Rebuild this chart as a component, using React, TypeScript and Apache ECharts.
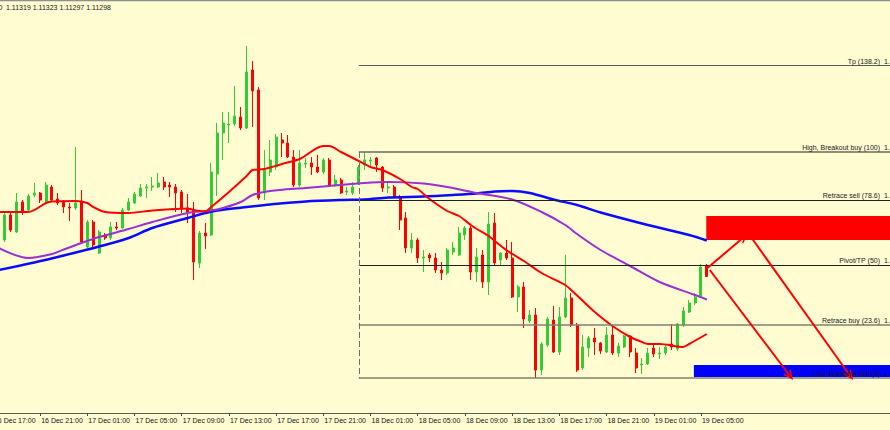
import React, { useEffect, useRef } from "react";
import * as echarts from "echarts";

const SYMBOL = "EURUSD,M30";
const HEADER = "1.11319 1.11323 1.11297 1.11298";
const START_UTC = Date.UTC(2019, 11, 16, 17, 0);
const STEP_MIN = 30;
const TOTAL_BARS = 155;
const TICK_EVERY = 8;
const FIRST_CANDLE = 1;
const MONTHS = ["Jan", "Feb", "Mar", "Apr", "May", "Jun", "Jul", "Aug", "Sep", "Oct", "Nov", "Dec"];

// [open, close, low, high] for bars k = 1..121
const CANDLES: number[][] = [
  [1.11457, 1.11387, 1.11381, 1.11465], [1.11371, 1.11421, 1.11367, 1.11429], [1.11421, 1.11391, 1.11387, 1.11425],
  [1.11387, 1.11447, 1.11385, 1.11465], [1.11447, 1.11427, 1.11421, 1.11451], [1.11431, 1.11459, 1.11429, 1.11463],
  [1.11461, 1.11465, 1.11457, 1.11485], [1.11465, 1.11451, 1.11445, 1.11467], [1.11447, 1.11481, 1.11445, 1.11487],
  [1.11477, 1.11451, 1.11449, 1.11481], [1.11453, 1.11445, 1.11441, 1.11465], [1.11447, 1.11437, 1.11425, 1.11451],
  [1.11437, 1.11435, 1.11409, 1.11445], [1.11435, 1.11445, 1.11431, 1.11557], [1.11447, 1.11367, 1.11365, 1.11471],
  [1.11357, 1.11407, 1.11355, 1.11411], [1.11407, 1.11361, 1.11357, 1.11411], [1.11345, 1.11387, 1.11343, 1.11391],
  [1.11381, 1.11375, 1.11371, 1.11385], [1.11375, 1.11397, 1.11371, 1.11407], [1.11397, 1.11395, 1.11391, 1.11407],
  [1.11395, 1.11431, 1.11393, 1.11435], [1.11431, 1.11447, 1.11429, 1.11455], [1.11445, 1.11463, 1.11443, 1.11467],
  [1.11459, 1.11475, 1.11457, 1.11483], [1.11475, 1.11477, 1.11455, 1.11483], [1.11477, 1.11479, 1.11469, 1.11497],
  [1.11477, 1.11485, 1.11475, 1.11505], [1.11487, 1.11477, 1.11471, 1.11497], [1.11481, 1.11477, 1.11457, 1.11487],
  [1.11477, 1.11465, 1.11427, 1.11483], [1.11467, 1.11435, 1.11425, 1.11471], [1.11435, 1.11427, 1.11405, 1.11463],
  [1.11431, 1.11327, 1.11291, 1.11447], [1.11325, 1.11385, 1.11315, 1.11389], [1.11385, 1.11379, 1.11353, 1.11405],
  [1.11381, 1.11507, 1.11379, 1.11525], [1.11503, 1.11585, 1.11459, 1.11605], [1.11585, 1.11605, 1.11531, 1.11627],
  [1.11601, 1.11603, 1.11565, 1.11627], [1.11603, 1.11619, 1.11599, 1.11679], [1.11617, 1.11595, 1.11591, 1.11637],
  [1.11595, 1.11707, 1.11593, 1.11759], [1.11711, 1.11669, 1.11597, 1.11729], [1.11671, 1.11455, 1.11451, 1.11677],
  [1.11465, 1.11511, 1.11451, 1.11551], [1.11507, 1.11531, 1.11499, 1.11571], [1.11517, 1.11577, 1.11511, 1.11583],
  [1.11571, 1.11565, 1.11537, 1.11585], [1.11565, 1.11537, 1.11535, 1.11581], [1.11537, 1.11481, 1.11477, 1.11551],
  [1.11481, 1.11525, 1.11477, 1.11551], [1.11523, 1.11525, 1.11515, 1.11535], [1.11525, 1.11517, 1.11501, 1.11537],
  [1.11517, 1.11507, 1.11505, 1.11541], [1.11507, 1.11531, 1.11503, 1.11535], [1.11531, 1.11481, 1.11477, 1.11535],
  [1.11481, 1.11491, 1.11477, 1.11501], [1.11491, 1.11465, 1.11463, 1.11495], [1.11467, 1.11469, 1.11461, 1.11477],
  [1.11465, 1.11477, 1.11461, 1.11487], [1.11485, 1.11517, 1.11481, 1.11521], [1.11521, 1.11531, 1.11511, 1.11547],
  [1.11529, 1.11531, 1.11517, 1.11537], [1.11535, 1.11521, 1.11507, 1.11537], [1.11517, 1.11475, 1.11467, 1.11519],
  [1.11475, 1.11477, 1.11465, 1.11487], [1.11477, 1.11457, 1.11455, 1.11481], [1.11457, 1.11411, 1.11391, 1.11461],
  [1.11415, 1.11355, 1.11345, 1.11427], [1.11355, 1.11371, 1.11345, 1.11385], [1.11371, 1.11335, 1.11325, 1.11375],
  [1.11335, 1.11337, 1.11307, 1.11351], [1.11341, 1.11335, 1.11327, 1.11345], [1.11335, 1.11311, 1.11305, 1.11345],
  [1.11311, 1.11305, 1.11291, 1.11327], [1.11305, 1.11351, 1.11301, 1.11355], [1.11347, 1.11355, 1.11341, 1.11367],
  [1.11341, 1.11385, 1.11339, 1.11397], [1.11381, 1.11395, 1.11371, 1.11399], [1.11395, 1.11307, 1.11291, 1.11399],
  [1.11307, 1.11337, 1.11287, 1.11355], [1.11341, 1.11287, 1.11275, 1.11351], [1.11287, 1.11403, 1.11261, 1.11427],
  [1.11405, 1.11325, 1.11321, 1.11425], [1.11331, 1.11345, 1.11321, 1.11347], [1.11345, 1.11335, 1.11331, 1.11371],
  [1.11335, 1.11257, 1.11255, 1.11367], [1.11257, 1.11277, 1.11227, 1.11281], [1.11277, 1.11213, 1.11195, 1.11287],
  [1.11209, 1.11221, 1.11205, 1.11231], [1.11221, 1.11111, 1.11095, 1.11235], [1.11111, 1.11163, 1.11101, 1.11167],
  [1.11161, 1.11213, 1.11157, 1.11217], [1.11211, 1.11147, 1.11145, 1.11239], [1.11147, 1.11217, 1.11141, 1.11237],
  [1.11217, 1.11255, 1.11215, 1.11341], [1.11255, 1.11201, 1.11197, 1.11265], [1.11201, 1.11111, 1.11107, 1.11205],
  [1.11115, 1.11157, 1.11111, 1.11181], [1.11155, 1.11175, 1.11137, 1.11179], [1.11175, 1.11167, 1.11141, 1.11195],
  [1.11165, 1.11149, 1.11143, 1.11167], [1.11147, 1.11181, 1.11145, 1.11197], [1.11181, 1.11145, 1.11141, 1.11197],
  [1.11145, 1.11159, 1.11137, 1.11165], [1.11157, 1.11179, 1.11155, 1.11181], [1.11179, 1.11147, 1.11137, 1.11181],
  [1.11145, 1.11115, 1.11105, 1.11155], [1.11121, 1.11123, 1.11103, 1.11135], [1.11123, 1.11145, 1.11121, 1.11155],
  [1.11155, 1.11143, 1.11137, 1.11161], [1.11143, 1.11145, 1.11133, 1.11157], [1.11145, 1.11157, 1.11141, 1.11161],
  [1.11163, 1.11157, 1.11151, 1.11203], [1.11153, 1.11203, 1.11149, 1.11205], [1.11201, 1.11229, 1.11197, 1.11237],
  [1.11227, 1.11245, 1.11225, 1.11251], [1.11245, 1.11257, 1.11241, 1.11265], [1.11257, 1.11317, 1.11255, 1.11323],
  [1.11319, 1.11298, 1.11297, 1.11323],
];
const LAST_BAR = FIRST_CANDLE + CANDLES.length - 1;

// moving averages, [bar index, price]
const RED_MA: number[][] = [
  [1, 1.11427], [6, 1.11427], [9, 1.11445], [10, 1.11448], [14, 1.11449], [16, 1.11445], [17, 1.11437],
  [19, 1.11427], [23, 1.11425], [27, 1.1143], [33, 1.11434], [34, 1.11431], [36, 1.11428], [37, 1.11437],
  [40, 1.11467], [43, 1.11499], [44, 1.11511], [46, 1.11513], [49, 1.11523], [52, 1.11533], [56, 1.11559],
  [57, 1.11559], [59, 1.11547], [62, 1.11529], [64, 1.11517], [66, 1.11511], [69, 1.11493], [71, 1.11477],
  [72, 1.11473], [74, 1.11453], [77, 1.11429], [79, 1.11419], [81, 1.11401], [82, 1.11393], [84, 1.11379],
  [87, 1.11351], [90, 1.11329], [93, 1.11305], [97, 1.11281], [98, 1.11271], [100, 1.11249], [102, 1.11227],
  [105, 1.11199], [108, 1.11177], [110, 1.11167], [111, 1.11163], [113, 1.11163], [117, 1.11157], [118, 1.11163],
  [121, 1.11183],
];
const PURPLE_MA: number[][] = [
  [1, 1.11355], [6, 1.11335], [10, 1.11343], [12, 1.11352], [15, 1.11365], [18, 1.11377], [23, 1.11393],
  [27, 1.11407], [33, 1.11425], [36, 1.11429], [38, 1.11432], [42, 1.11447], [44, 1.11461], [47, 1.11469],
  [53, 1.11475], [57, 1.11479], [63, 1.11485], [67, 1.11487], [73, 1.11484], [77, 1.11477], [82, 1.11465],
  [88, 1.11452], [93, 1.11427], [97, 1.11401], [99, 1.11383], [103, 1.11351], [108, 1.11319], [113, 1.11287],
  [119, 1.11261], [121, 1.11252],
];
const BLUE_MA: number[][] = [
  [1, 1.11311], [7, 1.11326], [12, 1.1134], [18, 1.11358], [23, 1.11375], [27, 1.11395], [33, 1.11415],
  [36, 1.11425], [38, 1.1143], [43, 1.11437], [47, 1.11442], [53, 1.11448], [59, 1.11451], [63, 1.11452],
  [67, 1.11456], [73, 1.11458], [78, 1.11461], [82, 1.11464], [85, 1.11468], [88, 1.11469], [91, 1.11465],
  [95, 1.11452], [99, 1.11441], [103, 1.11426], [111, 1.11401], [118, 1.11381], [121, 1.1137],
];

const FIB_START = 62;
const FIB_END = 153;
const FIB_HIGH = 1.11547;
const FIB_LOW = 1.11095;
const FIB_NAMES = ["Tp (138.2)", "High, Breakout buy (100)", "Retrace sell (78.6)", "Pivot/TP (50)", "Retrace buy (23.6)", "Low, Breakout sell (0)"];
const FIB_RATIOS = [1.382, 1, 0.786, 0.5, 0.236, 0];
const FIB_PRICES = ["1.11720", "1.11547", "1.11450", "1.11321", "1.11202", "1.11095"];
const FIB_COLORS = ["#5c5c5c", "#6a6a5c", "#202020", "#202020", "#80806e", "#80806e"];
const FIB_WIDTHS = [1, 1.5, 1, 1, 1.5, 1.5];

const SELL_ZONE = [[120.9, 1.11419], [FIB_END, 1.11371]];
const BUY_ZONE = [[118.8, 1.11121], [FIB_END, 1.11097]];
const ARROWS = [
  [[121.1, 1.11315], [127.3, 1.11377]],
  [[128.6, 1.11375], [145.3, 1.11099]],
  [[121.5, 1.11311], [135.1, 1.11099]],
];

const Y_MIN = 1.11025;
const Y_MAX = 1.11847;
const FONT = "'Liberation Sans', Arial, sans-serif";
const BG = "#fffcd2";

function pad2(n: number) {
  return String(n).padStart(2, "0");
}

const categories = Array.from({ length: TOTAL_BARS }, (_, k) => {
  const d = new Date(START_UTC + k * STEP_MIN * 60000);
  return `${d.getUTCDate()} ${MONTHS[d.getUTCMonth()]} ${pad2(d.getUTCHours())}:${pad2(d.getUTCMinutes())}`;
});

const candleData = categories.map((_, k) => {
  const c = CANDLES[k - FIRST_CANDLE];
  return c ? c : "-";
});

function fibPrice(r: number) {
  return FIB_LOW + r * (FIB_HIGH - FIB_LOW);
}

const ARROW_HEAD = "path://M5,0 L10,10 L8.2,10 L5,3.6 L1.8,10 L0,10 Z";

export default function App() {
  const ref = useRef<HTMLDivElement>(null);

  useEffect(() => {
    document.body.style.margin = "0";
    const chart = echarts.init(ref.current as HTMLDivElement, undefined, { renderer: "svg" });
    const isTick = (i: number) => i % TICK_EVERY === 0 && i <= LAST_BAR;

    const fibLines = FIB_RATIOS.map((r, i) => [
      { coord: [FIB_START, fibPrice(r)], lineStyle: { color: FIB_COLORS[i], width: FIB_WIDTHS[i], type: "solid" } },
      { coord: [FIB_END, fibPrice(r)] },
    ]);

    const option: any = {
      animation: false,
      backgroundColor: BG,
      grid: {
        left: -10,
        top: 2,
        width: TOTAL_BARS * 5.9,
        height: 411,
        containLabel: false,
        outerBoundsMode: "none",
      },
      xAxis: [
        {
          type: "category",
          data: categories,
          boundaryGap: true,
          axisLine: { lineStyle: { color: "#5a5a5a", width: 1 } },
          axisTick: { show: true, interval: isTick, alignWithLabel: true, length: 3, lineStyle: { color: "#4a4a4a" } },
          axisLabel: {
            interval: isTick,
            align: "left",
            margin: 4,
            padding: [0, 0, 0, 1],
            fontSize: 7,
            fontFamily: FONT,
            color: "#111",
            hideOverlap: false,
          },
          splitLine: { show: false },
        },
        { type: "value", min: -0.5, max: TOTAL_BARS - 0.5, show: false, gridIndex: 0 },
      ],
      yAxis: { type: "value", min: Y_MIN, max: Y_MAX, show: false, splitLine: { show: false } },
      series: [
        {
          type: "candlestick",
          xAxisIndex: 0,
          data: candleData,
          barWidth: 2.5,
          itemStyle: { color: "#32cd32", color0: "#ff0000", borderColor: "#32cd32", borderColor0: "#ff0000", borderWidth: 1 },
          silent: true,
        },
        {
          type: "line",
          xAxisIndex: 1,
          data: [],
          silent: true,
          markArea: {
            silent: true,
            data: [
              [{ coord: SELL_ZONE[0], itemStyle: { color: "#ff0000", opacity: 1 } }, { coord: SELL_ZONE[1] }],
              [{ coord: BUY_ZONE[0], itemStyle: { color: "#0000ff", opacity: 1 } }, { coord: BUY_ZONE[1] }],
            ],
          },
          markLine: {
            silent: true,
            symbol: ["none", "none"],
            label: { show: false },
            data: [
              ...fibLines,
              [
                { coord: [FIB_START, FIB_HIGH], lineStyle: { color: "#707070", width: 1, type: [6, 3] } },
                { coord: [FIB_START, FIB_LOW] },
              ],
            ],
          },
        },
        {
          type: "line",
          xAxisIndex: 1,
          data: BLUE_MA,
          showSymbol: false,
          smooth: 0.3,
          silent: true,
          lineStyle: { color: "#0a0aff", width: 2.5 },
        },
        {
          type: "line",
          xAxisIndex: 1,
          data: PURPLE_MA,
          showSymbol: false,
          smooth: 0.3,
          silent: true,
          lineStyle: { color: "#9a2fd2", width: 2 },
        },
        {
          type: "line",
          xAxisIndex: 1,
          data: RED_MA,
          showSymbol: false,
          smooth: 0.3,
          silent: true,
          lineStyle: { color: "#ff0000", width: 2 },
        },
        {
          type: "line",
          xAxisIndex: 1,
          data: [],
          silent: true,
          z: 5,
          markLine: {
            silent: true,
            symbol: ["none", ARROW_HEAD],
            symbolSize: [9, 10],
            label: { show: false },
            lineStyle: { color: "#ff0000", width: 2, type: "solid" },
            data: ARROWS.map((a) => [{ coord: a[0] }, { coord: a[1] }]),
          },
        },
      ],
    };
    chart.setOption(option);

    const textStyle = { fontSize: 7, fontFamily: FONT, fill: "#1a1a1a" };
    const fibTexts: any[] = [];
    FIB_RATIOS.forEach((r, i) => {
      const y = chart.convertToPixel({ yAxisIndex: 0 }, fibPrice(r)) as number;
      fibTexts.push({
        type: "text",
        x: 880,
        y: y - 1,
        z: 100,
        silent: true,
        style: { ...textStyle, text: FIB_NAMES[i], align: "right", verticalAlign: "bottom" },
      });
      fibTexts.push({
        type: "text",
        x: 884,
        y: y - 1,
        z: 100,
        silent: true,
        style: { ...textStyle, text: FIB_PRICES[i], align: "left", verticalAlign: "bottom" },
      });
    });

    chart.setOption({
      graphic: [
        { type: "rect", z: 100, shape: { x: 0, y: 0, width: 890, height: 1.2 }, style: { fill: "#8e8e8e" }, silent: true },
        {
          type: "text",
          x: 2.5,
          y: 7,
          z: 100,
          silent: true,
          style: { ...textStyle, text: SYMBOL, align: "right", verticalAlign: "middle" },
        },
        {
          type: "text",
          x: 6,
          y: 7,
          z: 100,
          silent: true,
          style: { ...textStyle, text: HEADER, align: "left", verticalAlign: "middle" },
        },
        ...fibTexts,
      ],
    });

    return () => chart.dispose();
  }, []);

  return <div ref={ref} style={{ position: "fixed", left: 0, top: 0, width: 890, height: 430 }} />;
}
